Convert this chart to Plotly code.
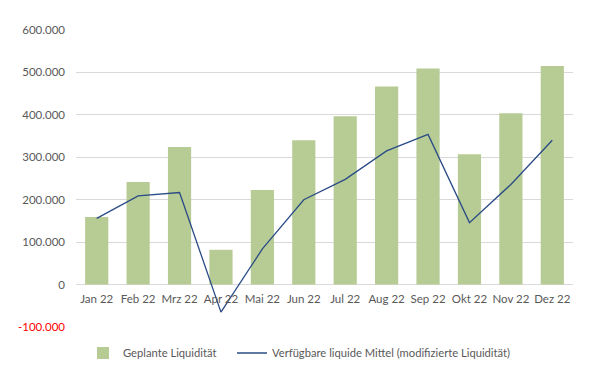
import plotly.graph_objects as go

months = ["Jan 22", "Feb 22", "Mrz 22", "Apr 22", "Mai 22", "Jun 22",
          "Jul 22", "Aug 22", "Sep 22", "Okt 22", "Nov 22", "Dez 22"]
geplant = [159000, 242000, 324000, 82000, 223000, 340000,
           397000, 467000, 509000, 307000, 404000, 515000]
verfuegbar = [156000, 209000, 217000, -65000, 84000, 200000,
              248000, 315000, 354000, 146000, 236000, 340000]
tick_vals = [-100000, 0, 100000, 200000, 300000, 400000, 500000, 600000]
tick_text = ["<span style='color:#ff0000'>-100.000</span>", "0", "100.000", "200.000",
             "300.000", "400.000", "500.000", "600.000"]
y_min, y_max = -100000, 600000

fig = go.Figure()
fig.add_trace(go.Bar(x=months, y=geplant, name="Geplante Liquidität",
                     marker=dict(color="#b7cc94", line=dict(width=0)), legend="legend"))
fig.add_trace(go.Scatter(x=months, y=verfuegbar, mode="lines",
                         name="Verfügbare liquide Mittel (modifizierte Liquidität)",
                         line=dict(color="#2a4b86", width=1.3), legend="legend2"))

leg_common = dict(orientation="h", xref="container", xanchor="left",
                  yref="container", y=1 - 345 / 370, yanchor="middle",
                  font=dict(size=11.2, color="#595959"), itemwidth=30,
                  bgcolor="rgba(0,0,0,0)")

# page body has an 8px margin, so the figure is drawn 8px in from the top-left
fig.update_layout(
    width=592, height=370,
    margin=dict(l=68, r=27, t=22, b=51, autoexpand=False),
    paper_bgcolor="white", plot_bgcolor="white",
    bargap=0.44,
    font=dict(family="Lato, Open Sans, sans-serif", size=11.5, color="#595959"),
    showlegend=True,
    legend=dict(x=75 / 592, **leg_common),
    legend2=dict(x=224 / 592, **leg_common),
)
fig.update_xaxes(showgrid=False, showline=False, ticks="", automargin=False,
                 anchor="free", position=(0 - y_min) / (y_max - y_min),
                 ticklabelstandoff=6,
                 tickfont=dict(size=11.5, color="#595959"))
fig.update_yaxes(range=[y_min, y_max], tickvals=tick_vals, ticktext=tick_text,
                 showgrid=True, gridcolor="#d9d9d9", gridwidth=1, automargin=False,
                 zeroline=True, zerolinecolor="#d9d9d9", zerolinewidth=1,
                 ticks="", ticklabelstandoff=10, tickfont=dict(size=11.5, color="#595959"))

fig.write_html("out.html")
